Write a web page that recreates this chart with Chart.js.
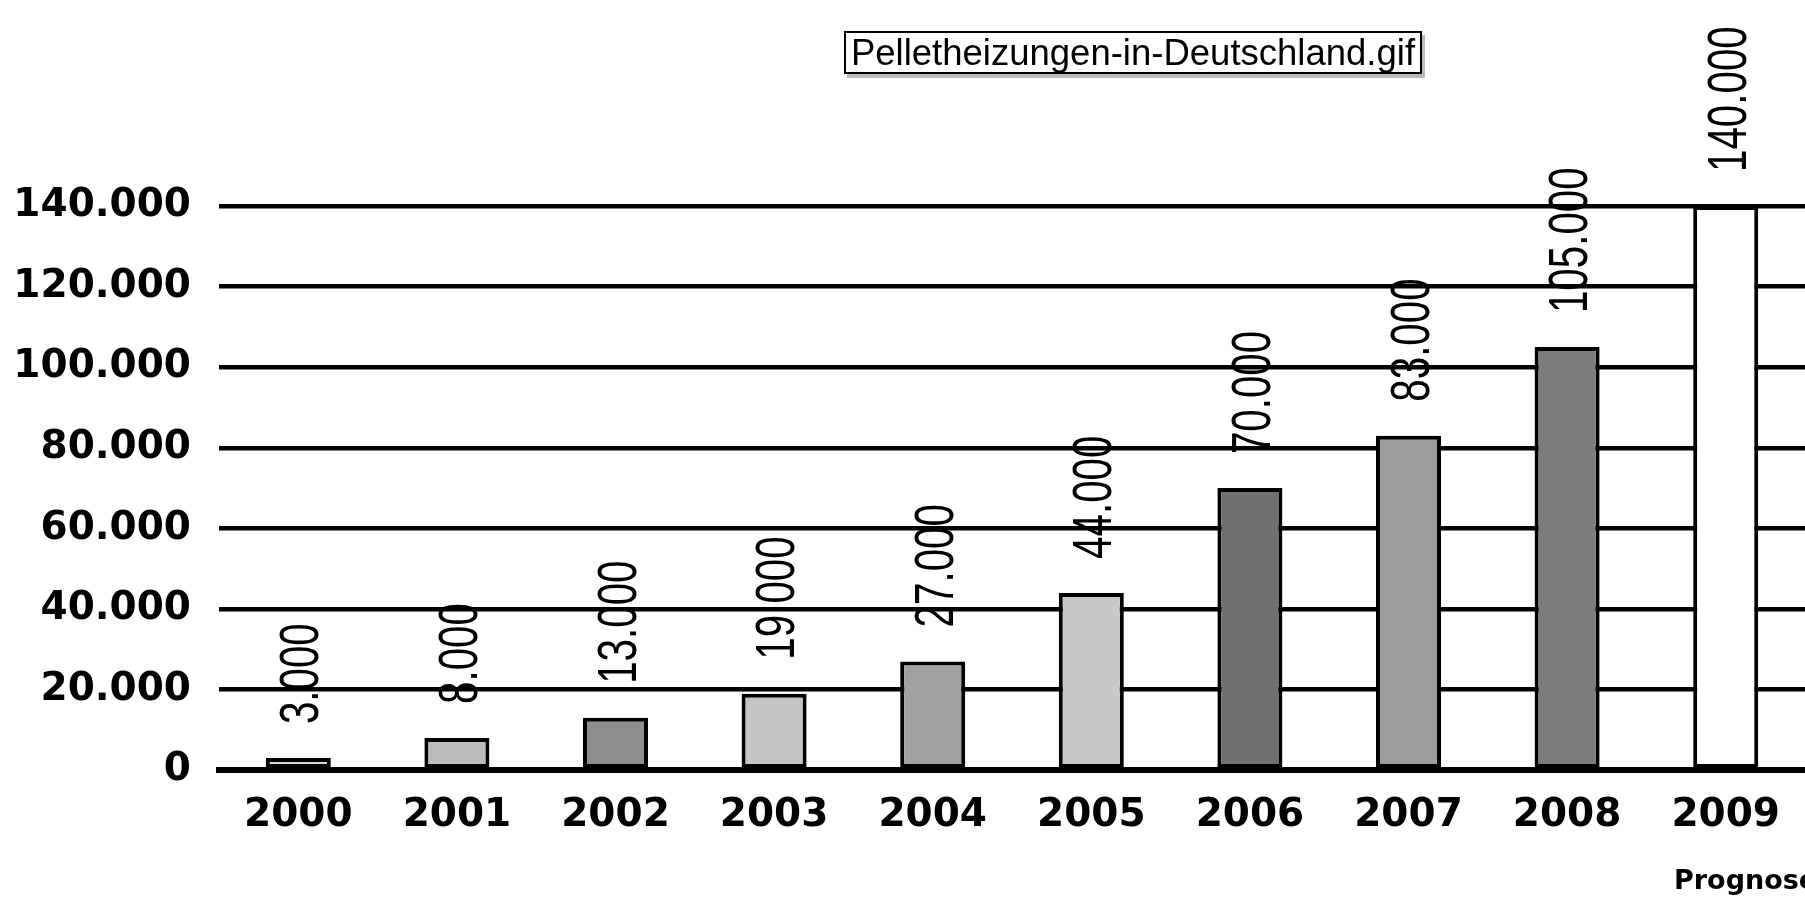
<!DOCTYPE html>
<html>
<head>
<meta charset="utf-8">
<script src="https://cdn.jsdelivr.net/npm/chart.js@4"></script>
<style>
  html, body { margin: 0; padding: 0; background: #fff; }
  #wrap { position: relative; width: 1805px; height: 897px; overflow: hidden; }
  #title {
    position: absolute; left: 844px; top: 31px; width: 574px; height: 39px;
    border: 2px solid #000; box-shadow: 3px 4px 0 #bbb;
    font-family: "Liberation Sans", Arial, sans-serif; font-size: 36.5px; line-height: 39px;
    text-align: center; color: #000; white-space: nowrap; background: #fff;
  }
  #note {
    position: absolute; left: 1674px; top: 865px; white-space: nowrap;
    font-family: "DejaVu Sans", sans-serif; font-weight: bold; font-size: 27px; line-height: 29px; color: #000;
  }
</style>
</head>
<body>
<div id="wrap">
  <canvas id="c" width="1805" height="897"></canvas>
  <div id="title">Pelletheizungen-in-Deutschland.gif</div>
  <div id="note">Prognose</div>
</div>
<script>
const years = ["2000","2001","2002","2003","2004","2005","2006","2007","2008","2009"];
const installations = [3000, 8000, 13000, 19000, 27000, 44000, 70000, 83000, 105000, 140000];
const barColors = ["#d6d6d6","#bcbcbc","#8e8e8e","#c4c4c4","#a0a0a0","#c8c8c8","#707070","#9c9c9c","#7c7c7c","#ffffff"];
const yTicks = [0, 20000, 40000, 60000, 80000, 100000, 120000, 140000];

function fmt(v) {
  return String(Math.round(v)).replace(/\B(?=(\d{3})+(?!\d))/g, ".");
}

const valueLabels = {
  id: "valueLabels",
  afterDatasetsDraw(chart) {
    const ctx = chart.ctx;
    const meta = chart.getDatasetMeta(0);
    const yScale = chart.scales.y;
    const fontSize = 56;
    const capH = fontSize * 0.716;
    ctx.save();
    ctx.fillStyle = "#000";
    ctx.font = fontSize + 'px "Liberation Sans", Arial, sans-serif';
    ctx.textAlign = "left";
    ctx.textBaseline = "alphabetic";
    meta.data.forEach((bar, i) => {
      const v = installations[i];
      const y = yScale.getPixelForValue(v) - 34;
      ctx.save();
      ctx.translate(bar.x, y);
      ctx.rotate(-Math.PI / 2);
      ctx.scale(0.72, 1);
      ctx.fillText(fmt(v), 0, capH / 2);
      ctx.restore();
    });
    ctx.restore();
  }
};

new Chart(document.getElementById("c"), {
  type: "bar",
  data: {
    labels: years,
    datasets: [{
      data: installations,
      backgroundColor: barColors,
      borderColor: "#000",
      borderWidth: 4,
      borderSkipped: false,
      categoryPercentage: 1.0,
      barPercentage: 0.41
    }]
  },
  options: {
    responsive: false,
    animation: false,
    layout: { padding: { top: 206, left: 12, right: 0, bottom: 36 } },
    plugins: { legend: { display: false }, tooltip: { enabled: false }, title: { display: false } },
    scales: {
      x: {
        grid: { display: false, drawTicks: false },
        border: { display: true, color: "#000", width: 6 },
        ticks: {
          color: "#000", padding: 22, maxRotation: 0,
          font: { family: "DejaVu Sans", weight: "bold", size: 39 }
        }
      },
      y: {
        min: 0, max: 140000,
        afterBuildTicks(scale) { scale.ticks = yTicks.map(v => ({ value: v })); },
        afterFit(scale) { scale.width = 207; },
        grid: { color: "#000", lineWidth: 4.5, drawTicks: false },
        border: { display: false },
        ticks: {
          color: "#000", padding: 28,
          font: { family: "DejaVu Sans", weight: "bold", size: 39 },
          callback: (v) => fmt(v)
        }
      }
    }
  },
  plugins: [valueLabels]
});
</script>
</body>
</html>
